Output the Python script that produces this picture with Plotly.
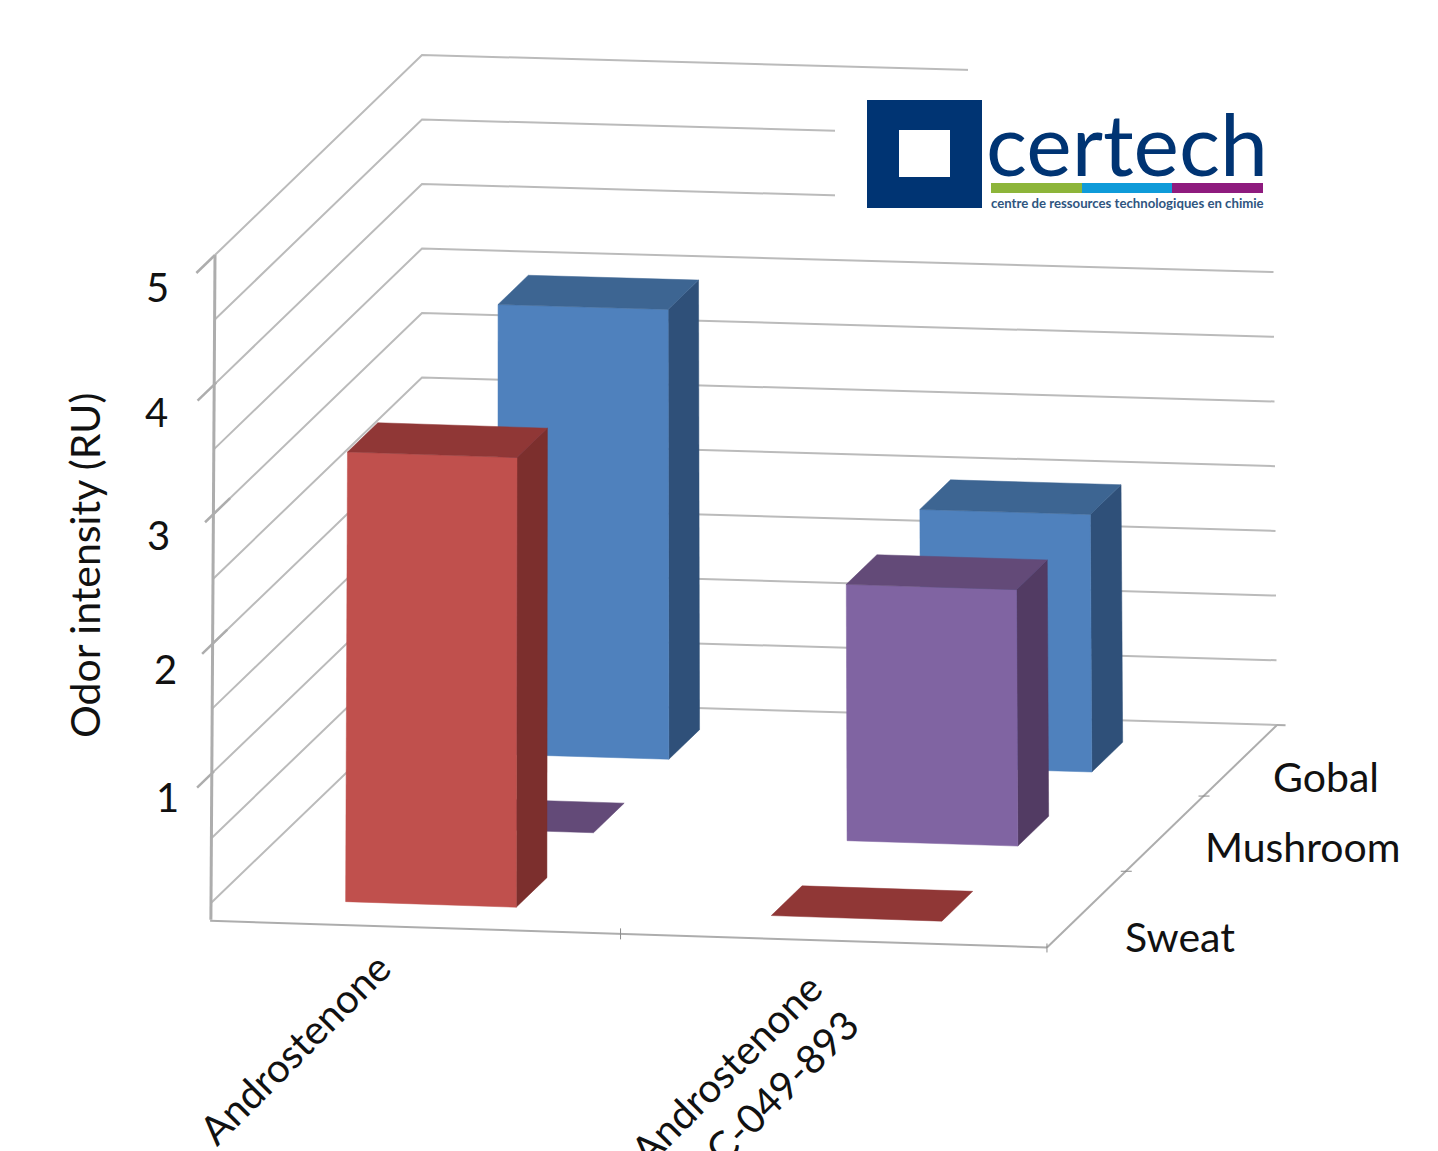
import numpy as np
import plotly.graph_objects as go

# ---------- data ----------
categories = ["Androstenone", "Androstenone<br>C-049-893"]
series_names = ["Sweat", "Mushroom", "Gobal"]
sweat = [3.47, 0.0]
mushroom = [0.0, 1.98]
global_ = [3.48, 1.99]
value_ticks = [1, 2, 3, 4, 5]
y_title = "Odor intensity (RU)"
logo_word = "certech"
logo_tag = "centre de ressources technologiques en chimie"

# ---------- oblique 3-D box -> canvas (trilinear between the 8 corners) ----------
ZMAX = 5.0
C = {(0, 0, 0): (211, 903), (1, 0, 0): (1064, 931), (0, 1, 0): (422, 700), (1, 1, 0): (1277, 725),
     (0, 0, 1): (215, 255), (1, 0, 1): (1060, 283), (0, 1, 1): (422, 55), (1, 1, 1): (1272, 78)}


def P(u, v, z):
    w = z / ZMAX
    x = y = 0.0
    for (a, b, c), (px, py) in C.items():
        k = (u if a else 1 - u) * (v if b else 1 - v) * (w if c else 1 - w)
        x += k * px
        y += k * py
    return x, y


GRID = "#BBBBBB"
AXIS = "#ADADAD"
fig = go.Figure()


def line(pts, color=GRID, width=2):
    fig.add_trace(go.Scatter(x=[p[0] for p in pts], y=[p[1] for p in pts], mode="lines",
                             line=dict(color=color, width=width), hoverinfo="skip", showlegend=False))


def poly(pts, color):
    xs = [p[0] for p in pts] + [pts[0][0]]
    ys = [p[1] for p in pts] + [pts[0][1]]
    fig.add_trace(go.Scatter(x=xs, y=ys, mode="lines", fill="toself", fillcolor=color,
                             line=dict(color=color, width=0.5), hoverinfo="skip", showlegend=False))


# walls: gridlines every half unit
for z in np.arange(0, 5.01, 0.5):
    line([P(0, 0, z), P(0, 1, z), P(1, 1, z)])

# axes
line([P(0, 0, 5), P(0, 0, -0.13)], AXIS, 3)
line([P(0.02, -0.085, 0), P(1, -0.08, 0)], AXIS, 2)
line([P(1, -0.08, 0), P(1, 1, 0)], AXIS, 2)
line([P(1, 1, 0), P(1.01, 1, 0)], AXIS, 2)
tick_span = {1: (-0.07, 0.01), 2: (-0.05, 0.07), 3: (-0.04, 0.08), 4: (-0.08, 0.01), 5: (-0.09, 0.0)}
for z in value_ticks:
    v0, v1 = tick_span[z]
    line([P(0, v0, z), P(0, v1, z)], AXIS, 2.5)
a, b = P(0.5, -0.08, 0)
line([(a, b - 5), (a, b + 6)], "#8C8C8C", 1)
a, b = P(1, -0.08, 0)
line([(a, b - 4), (a, b + 5)], "#8C8C8C", 1)
for v in (0.29, 0.655):
    a, b = P(1, v, 0)
    line([(a - 5, b), (a + 6, b)], "#8C8C8C", 1)

# bars, back row first
colors = {
    "Sweat": ("#C0504D", "#7C2F2D", "#903736"),
    "Mushroom": ("#8064A2", "#523B63", "#634A78"),
    "Gobal": ("#4F81BD", "#2F5079", "#3D6592"),
}
rows = {"Sweat": sweat, "Mushroom": mushroom, "Gobal": global_}
HALF_U, HALF_V = 0.1, 0.0725
row_centre = [0.10, 0.465, 0.825]
col_centre = [0.251, 0.748]
nudge = {(0, 1): 0.002, (2, 1): -0.003, (2, 0): -0.001}
for j in (2, 1, 0):
    name = series_names[j]
    front, side, top = colors[name]
    vc = row_centre[j]
    for i, val in enumerate(rows[name]):
        uc = col_centre[i] + nudge.get((j, i), 0)
        u0, u1, v0, v1 = uc - HALF_U, uc + HALF_U, vc - HALF_V, vc + HALF_V
        if val > 0:
            poly([P(u1, v0, 0), P(u1, v1, 0), P(u1, v1, val), P(u1, v0, val)], side)
            poly([P(u0, v0, 0), P(u1, v0, 0), P(u1, v0, val), P(u0, v0, val)], front)
        poly([P(u0, v0, val), P(u1, v0, val), P(u1, v1, val), P(u0, v1, val)], top)

NAVY = "#003473"
shapes = [
    dict(type="rect", x0=835, x1=1310, y0=74, y1=252, fillcolor="white", line_width=0, layer="above"),
    dict(type="rect", x0=968, x1=1310, y0=50, y1=74, fillcolor="white", line_width=0, layer="above"),
    dict(type="rect", x0=867, x1=982, y0=100, y1=208, fillcolor=NAVY, line_width=0, layer="above"),
    dict(type="rect", x0=899, x1=950, y0=130, y1=177, fillcolor="white", line_width=0, layer="above"),
    dict(type="rect", x0=991, x1=1082, y0=183, y1=193, fillcolor="#8DB53A", line_width=0, layer="above"),
    dict(type="rect", x0=1082, x1=1172, y0=183, y1=193, fillcolor="#0F9BD9", line_width=0, layer="above"),
    dict(type="rect", x0=1172, x1=1263, y0=183, y1=193, fillcolor="#8E1B7E", line_width=0, layer="above"),
]

FONT = "Lato"
BLACK = "#111111"


def note(x, y, text, size, angle=0, xa="center", ya="middle", color=BLACK, align="center", fam=FONT):
    fig.add_annotation(x=x, y=y, xref="x", yref="y", text=text, showarrow=False, textangle=angle,
                       xanchor=xa, yanchor=ya, align=align,
                       font=dict(family=fam, size=size, color=color))


for val, (x, y) in zip(value_ticks, [(167, 797), (165, 669), (158, 535), (156, 412), (157, 287)]):
    note(x, y, str(val), 40)
note(84, 566, y_title, 41, angle=-90)
for name, (x, y) in zip(series_names, [(1180, 936), (1303, 846), (1326, 776)]):
    note(x, y, name, 41)
note(402, 941, categories[0], 40, angle=-45, xa="right", ya="top")
note(871, 961, categories[1], 40, angle=-45, xa="right", ya="top", align="right")
note(1127, 142, logo_word, 86, color=NAVY)
note(1127, 203, "<b>" + logo_tag + "</b>", 13.2, color="#2F5580")

fig.update_layout(
    width=1438, height=1151, margin=dict(l=0, r=0, t=0, b=0),
    paper_bgcolor="white", plot_bgcolor="white", showlegend=False, shapes=shapes,
    xaxis=dict(range=[0, 1438], visible=False, fixedrange=True),
    yaxis=dict(range=[1151, 0], visible=False, fixedrange=True),
)
fig.write_html("out.html", config={"displayModeBar": False},
               post_script="document.body.style.margin='0';document.body.style.overflow='hidden';")
